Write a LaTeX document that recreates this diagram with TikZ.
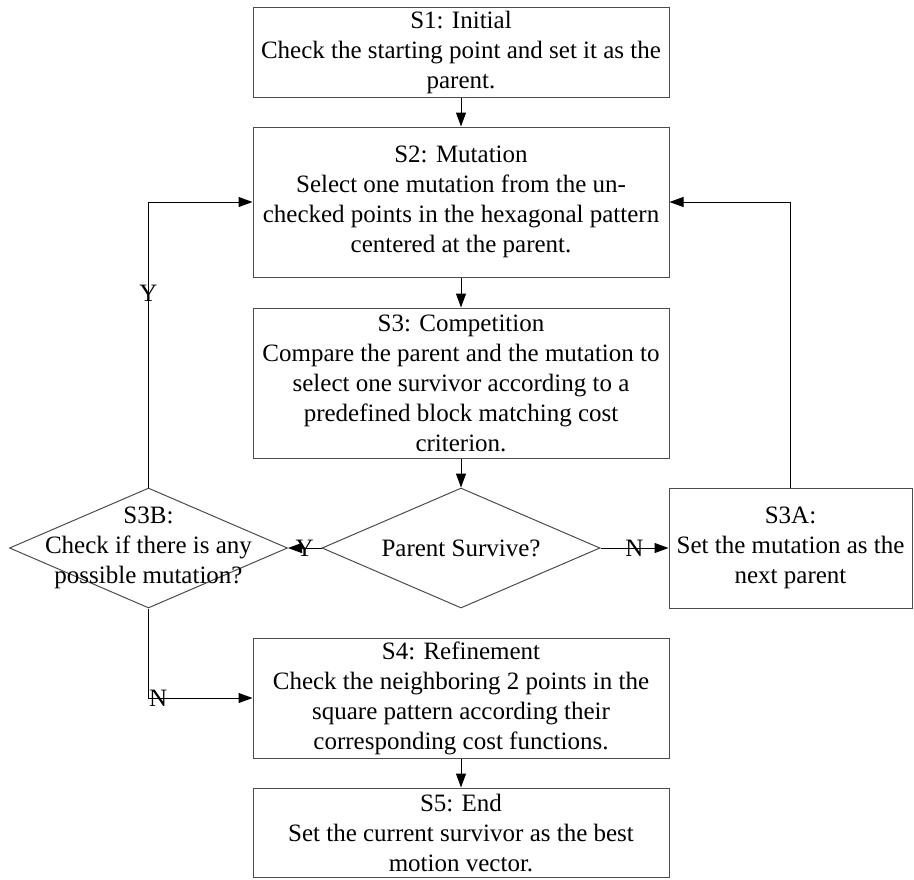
\documentclass[tikz,border=0pt]{standalone}
\usepackage{fontspec}
\setmainfont{Liberation Serif}
\usepackage{tikz}
\usetikzlibrary{arrows.meta}
\usetikzlibrary{shapes,positioning}
\tikzset{>={Triangle[length=7pt,width=5pt]}}

\begin{document}
\begin{tikzpicture}[x=0.5pt,y=-0.5pt,
    font=\fontsize{12.5}{15}\selectfont,
    stepbox/.style={draw=black!70, line width=0.5pt, minimum width=208pt, align=center, inner sep=0pt},
    decision/.style={draw=black!70, line width=0.5pt, diamond, minimum width=139pt, minimum height=60pt, inner sep=0pt},
    flow/.style={->, line width=0.5pt},
    tag/.style={inner sep=0pt}]

    \useasboundingbox (0,0) rectangle (914,879);

	\node [stepbox, minimum height=45pt] (s1) at (461,52) {S1: Initial\\Check the starting point and set it as the\\parent.};
	\node [stepbox, minimum height=75pt] (s2) at (461,202) {S2: Mutation\\Select one mutation from the un-\\checked points in the hexagonal pattern\\centered at the parent.};
	\node [stepbox, minimum height=75pt] (s3) at (461,383) {S3: Competition\\Compare the parent and the mutation to\\select one survivor according to a\\predefined block matching cost\\criterion.};

	\node [decision] (survive) at (461,548) {};
	\node [tag] (survivetext) at (survive.center) {Parent Survive?};
	\node [decision] (s3b) at (148.5,548) {};
	\node [tag, align=center] (s3btext) at (s3b.center) {S3B:\\Check if there is any\\possible mutation?};
	\node [stepbox, minimum width=121.5pt, minimum height=60pt] (s3a) at (790.5,548) {S3A:\\Set the mutation as the\\next parent};

	\node [stepbox, minimum height=60pt] (s4) at (461,698) {S4: Refinement\\Check the neighboring 2 points in the\\square pattern according their\\corresponding cost functions.};
	\node [stepbox, minimum height=44.5pt] (s5) at (461,832.5) {S5: End\\Set the current survivor as the best\\motion vector.};


	\draw [flow] (s1) -- (s2);
	\draw [flow] (s2) -- (s3);
	\draw [flow] (s3) -- (survive);
	\draw [flow] (s4) -- (s5);

	\draw [flow] (survive.east) -- node [tag] {N} (s3a.west);
	\draw [flow] (survive.west) -- node [tag] {Y} (s3b.east);
	\draw [flow] (s3a.north) |- (s2.east);
	\draw [flow] (s3b.north) |- node [tag, pos=0.34] {Y} (s2.west);
	\draw [flow] (s3b.south) |- node [tag, pos=0.5, anchor=west] {N} (s4.west);

\end{tikzpicture}
\end{document}
